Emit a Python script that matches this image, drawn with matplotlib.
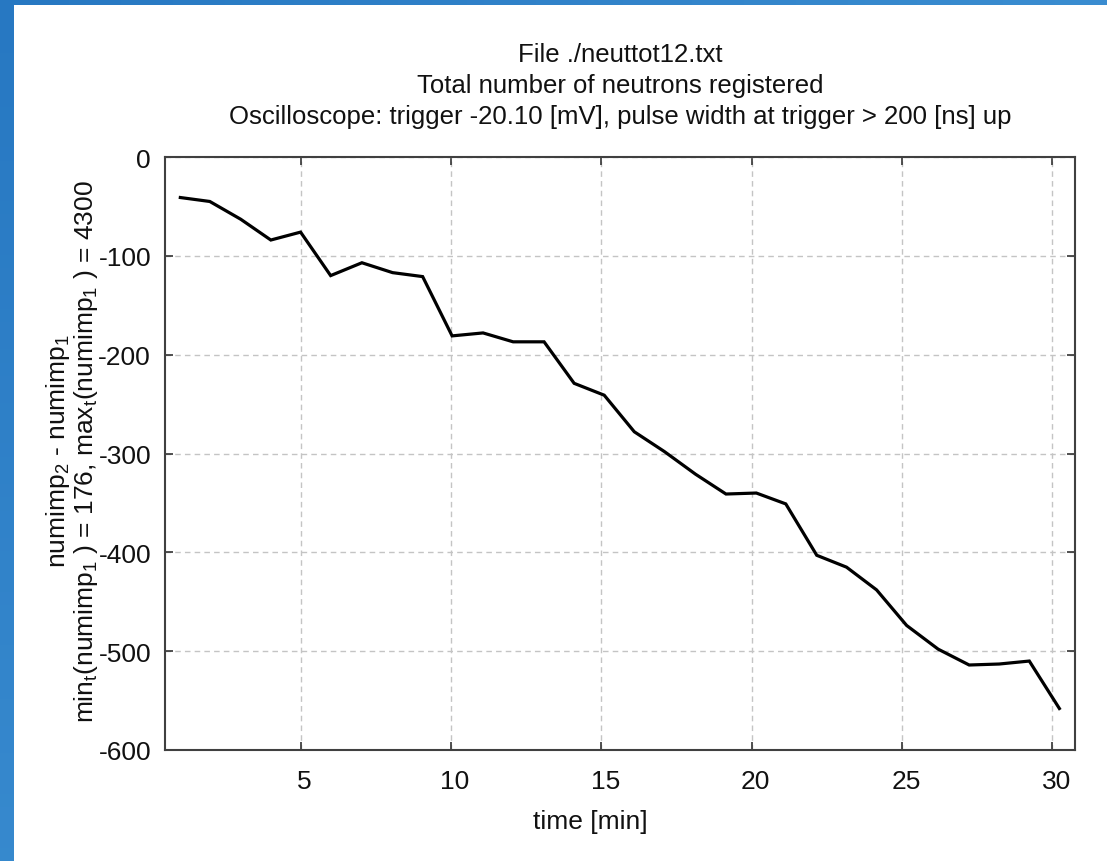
import numpy as np
import matplotlib
matplotlib.use("Agg")
import matplotlib.pyplot as plt
import matplotlib.transforms as mtransforms
from matplotlib.patches import Rectangle

plt.rcParams['font.family'] = ['Liberation Sans', 'DejaVu Sans']
plt.rcParams['axes.unicode_minus'] = False
plt.rcParams['mathtext.fontset'] = 'custom'
plt.rcParams['mathtext.rm'] = 'Liberation Sans'
plt.rcParams['mathtext.it'] = 'Liberation Sans'

time_min = [1.0, 1.98, 3.01, 4.01, 5.0, 6.0, 7.04, 8.06, 9.06, 10.04,
            11.07, 12.07, 13.1, 14.1, 15.1, 16.1, 17.1, 18.14, 19.15, 20.16,
            21.14, 22.17, 23.16, 24.16, 25.16, 26.21, 27.24, 28.24, 29.24, 30.24]
diff = [-41, -45, -63, -84, -76, -120, -107, -117, -121, -181,
        -178, -187, -187, -229, -241, -278, -298, -321, -341, -340,
        -351, -403, -415, -438, -474, -498, -514, -513, -510, -558]
x_ticks = [5, 10, 15, 20, 25, 30]
y_ticks = [0, -100, -200, -300, -400, -500, -600]

title_lines = ["File ./neuttot12.txt",
               "Total number of neutrons registered",
               "Oscilloscope: trigger -20.10 [mV], pulse width at trigger > 200 [ns] up"]

W, H = 1107, 862
fig = plt.figure(figsize=(W / 100, H / 100), dpi=100)

# blue gradient background frame
bg = fig.add_axes([0, 0, 1, 1], zorder=-10)
gx = np.linspace(0, 1, 64)[None, :]
gy = np.linspace(0, 1, 64)[:, None]
t = np.clip(0.55 * gx + 0.45 * gy, 0, 1)
c0 = np.array([0x27, 0x78, 0xc2]) / 255
c1 = np.array([0x4a, 0x9e, 0xdc]) / 255
img = c0[None, None, :] * (1 - t[..., None]) + c1[None, None, :] * t[..., None]
bg.imshow(img, extent=[0, 1, 0, 1], aspect='auto', origin='upper')
bg.add_patch(Rectangle((14 / W, 0), 1, 1 - 6 / H, facecolor='white', edgecolor='none'))
bg.set_xlim(0, 1)
bg.set_ylim(0, 1)
bg.axis('off')

left, right, top, bottom = 165, 1075, 158, 751
ax = fig.add_axes([left / W, 1 - bottom / H, (right - left) / W, (bottom - top) / H])
ax.plot(time_min, diff, color='black', lw=2.3, solid_joinstyle='miter')
ax.set_xlim(0.49, 30.76)
ax.set_ylim(-600, 0)
ax.set_xticks(x_ticks)
ax.set_yticks(y_ticks)
ax.tick_params(direction='in', length=6, width=1.2, top=True, right=True,
               labelsize=19, color='#333333', labelcolor='#111111')
ax.tick_params(axis='x', pad=14)
ax.tick_params(axis='y', pad=10)
ax.grid(True, color='#c4c4c4', linestyle=(0, (4, 3)), lw=1.0)
for s in ax.spines.values():
    s.set_color('#404040')
    s.set_linewidth(1.5)

shift = mtransforms.ScaledTranslation(4 / 100, 0, fig.dpi_scale_trans)
for lab in ax.get_xticklabels():
    lab.set_transform(lab.get_transform() + shift)

for i, line in enumerate(title_lines):
    fig.text(620 / W, 1 - (62 + 31 * i) / H, line, ha='center', va='baseline',
             fontsize=18.5, color='#111111')

ax.set_xlabel("time [min]", fontsize=19, color='#111111')
ax.xaxis.set_label_coords((590 - left) / (right - left), -(822 - bottom) / (bottom - top))
ax.xaxis.label.set_va('center')

fig.text(65 / W, 1 - 451 / H, r"numimp$_2$ - numimp$_1$", rotation=90,
         rotation_mode='anchor', ha='center', va='baseline',
         fontsize=19, color='#111111')
fig.text(93 / W, 1 - 452 / H,
         r"min$_\mathrm{t}$(numimp$_1$ ) = 176, max$_\mathrm{t}$(numimp$_1$ ) = 4300",
         rotation=90, rotation_mode='anchor', ha='center', va='baseline',
         fontsize=19, color='#111111')

fig.savefig("out.png", dpi=100)
